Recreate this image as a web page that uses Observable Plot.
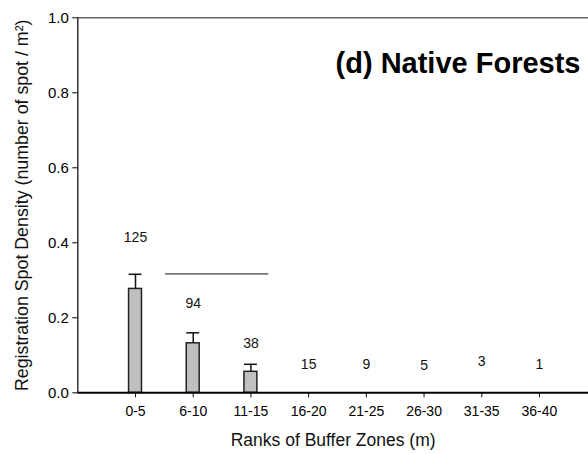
<!DOCTYPE html>
<html>
<head>
<meta charset="utf-8">
<script src="https://cdn.jsdelivr.net/npm/d3@7"></script>
<script src="https://cdn.jsdelivr.net/npm/@observablehq/plot@0.6"></script>
<style>
  html, body { margin: 0; padding: 0; background: #fff; }
  svg { display: block; }
</style>
</head>
<body>
<div id="chart"></div>
<script>
const zones = ["0-5", "6-10", "11-15", "16-20", "21-25", "26-30", "31-35", "36-40"];
const density = [0.277, 0.132, 0.056, 0, 0, 0, 0, 0];
const errors = [0.039, 0.028, 0.020, 0, 0, 0, 0, 0];
const counts = [125, 94, 38, 15, 9, 5, 3, 1];
const countY = [0.413, 0.239, 0.131, 0.075, 0.075, 0.073, 0.083, 0.075];
const sigLine = [{from: 1.52, to: 3.31, level: 0.317}];
const yTicks = [0, 0.2, 0.4, 0.6, 0.8, 1.0];
const title = "(d) Native Forests";
const xTitle = "Ranks of Buffer Zones (m)";
const yTitle = "Registration Spot Density (number of spot / m\u00B2)";

const rows = zones.map((z, k) => ({
  pos: k + 1, zone: z, value: density[k], err: errors[k],
  n: counts[k], labelY: countY[k]
}));
const barRows = rows.filter(d => d.value > 0);
const half = 0.112;

const font = "Liberation Sans, Arial, Helvetica, sans-serif";

const chart = Plot.plot({
  width: 588,
  height: 454,
  marginLeft: 77.3,
  marginRight: 0,
  marginTop: 17.3,
  marginBottom: 61.7,
  style: {fontFamily: font, color: "#000", background: "#fff"},
  x: {type: "linear", domain: [0, 8.85]},
  y: {domain: [0, 1]},
  marks: [
    Plot.ruleY([1], {stroke: "#666", strokeWidth: 1.5}),
    Plot.ruleX([0], {y1: 0, y2: 1, stroke: "#333", strokeWidth: 1.5}),
    Plot.rect(barRows, {
      x1: d => d.pos - half, x2: d => d.pos + half,
      y1: 0, y2: "value",
      fill: "#c0c0c0", stroke: "#222", strokeWidth: 1.5
    }),
    Plot.ruleX(barRows, {x: "pos", y1: "value", y2: d => d.value + d.err, stroke: "#111", strokeWidth: 1.5}),
    Plot.ruleY(barRows, {y: d => d.value + d.err, x1: d => d.pos - half, x2: d => d.pos + half, stroke: "#111", strokeWidth: 1.5}),
    Plot.ruleY(sigLine, {y: "level", x1: "from", x2: "to", stroke: "#111", strokeWidth: 1}),
    Plot.text(rows, {x: "pos", y: "labelY", text: d => String(d.n), fontSize: 14, fill: "#111"}),
    Plot.axisX({
      ticks: rows.map(d => d.pos),
      tickFormat: d => zones[d - 1],
      tickSize: 5, tickPadding: 8, fontSize: 14, label: null, stroke: "#111"
    }),
    Plot.axisY({
      ticks: yTicks, tickFormat: d => d.toFixed(1),
      tickSize: 5, tickPadding: 4, fontSize: 15, label: null
    }),
    Plot.ruleY([0], {stroke: "#000", strokeWidth: 2}),
    Plot.text([yTitle], {frameAnchor: "left", textAnchor: "middle", rotate: -90, dx: -56, fontSize: 17.8, fill: "#111"}),
    Plot.text([xTitle], {frameAnchor: "bottom", dy: 53, fontSize: 17.5, fill: "#111"}),
    Plot.text([title], {frameAnchor: "top-right", textAnchor: "end", dx: -8, dy: 35, fontSize: 29, fontWeight: "bold", fill: "#000"})
  ]
});
document.getElementById("chart").appendChild(chart);
</script>
</body>
</html>
